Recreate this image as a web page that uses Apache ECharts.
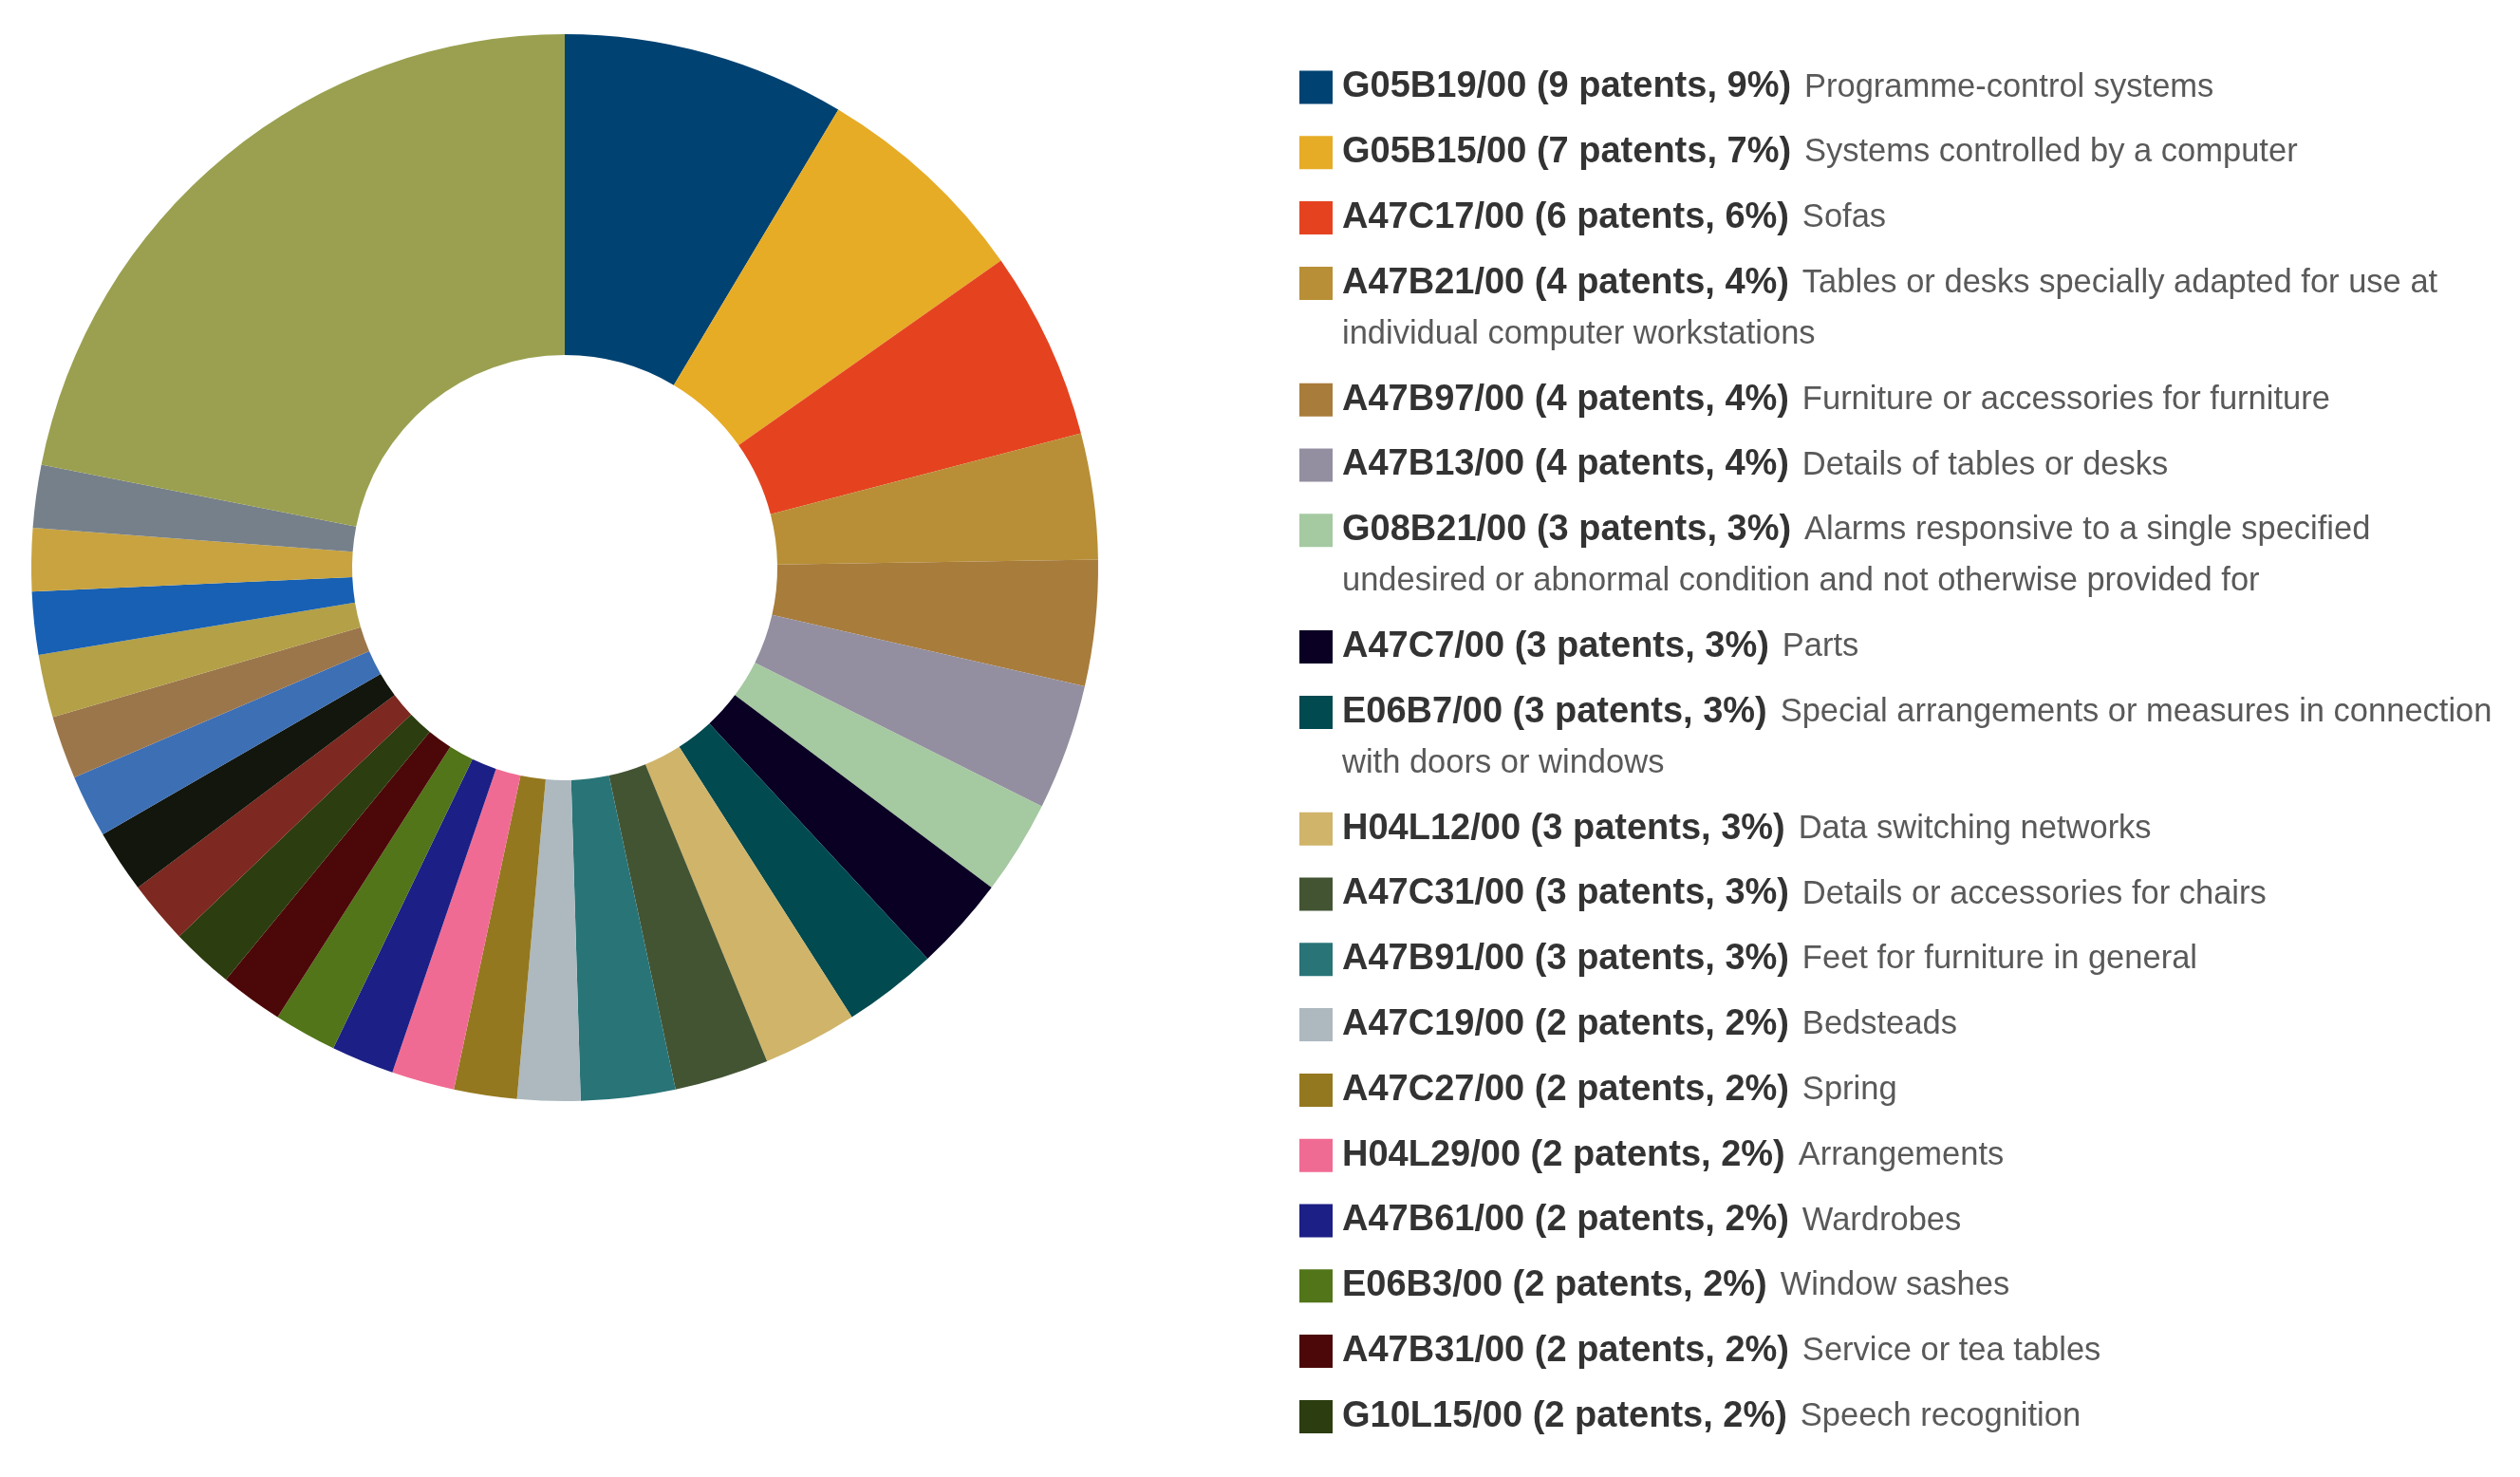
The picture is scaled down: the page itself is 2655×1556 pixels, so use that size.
<!DOCTYPE html>
<html>
<head>
<meta charset="utf-8">
<title>CPC groups</title>
<script src="https://cdn.jsdelivr.net/npm/echarts@6/dist/echarts.min.js"></script>
<style>
  html, body { margin: 0; padding: 0; background: #fff; }
  #chart { width: 2655px; height: 1556px; }
</style>
</head>
<body>
<div id="chart"></div>
<script>
// groups listed in the legend, in slice order (clockwise from 12 o'clock)
var codes = ['G05B19/00', 'G05B15/00', 'A47C17/00', 'A47B21/00', 'A47B97/00', 'A47B13/00',
  'G08B21/00', 'A47C7/00', 'E06B7/00', 'H04L12/00', 'A47C31/00', 'A47B91/00',
  'A47C19/00', 'A47C27/00', 'H04L29/00', 'A47B61/00', 'E06B3/00', 'A47B31/00', 'G10L15/00'];
var patents = [9, 7, 6, 4, 4, 4, 3, 3, 3, 3, 3, 3, 2, 2, 2, 2, 2, 2, 2];
var descriptions = [
  'Programme-control systems',
  'Systems controlled by a computer',
  'Sofas',
  'Tables or desks specially adapted for use at\nindividual computer workstations',
  'Furniture or accessories for furniture',
  'Details of tables or desks',
  'Alarms responsive to a single specified\nundesired or abnormal condition and not otherwise provided for',
  'Parts',
  'Special arrangements or measures in connection\nwith doors or windows',
  'Data switching networks',
  'Details or accessories for chairs',
  'Feet for furniture in general',
  'Bedsteads',
  'Spring',
  'Arrangements',
  'Wardrobes',
  'Window sashes',
  'Service or tea tables',
  'Speech recognition'
];
// slices that follow, not named in the legend
var restNames = ['Group 20', 'Group 21', 'Group 22', 'Group 23', 'Group 24', 'Group 25', 'Group 26', 'Group 27'];
var restPatents = [2, 2, 2, 2, 2, 2, 2, 2];
var otherName = 'Other groups';
var otherPatents = 23;

var colors = ['#004272', '#e6ac26', '#e54320', '#b88f36', '#a87c3b', '#938fa0', '#a5c9a1',
  '#0a0024', '#004a50', '#cfb46a', '#435433', '#297477', '#adb9bf', '#94781f', '#f06b93',
  '#1c1f85', '#517518', '#4c0808', '#2c3d0f',
  '#7d2820', '#12160c', '#3d6fb5', '#9c764b', '#b3a047', '#1760b4', '#c9a33f', '#76808a',
  '#9aa04f'];

var names = codes.concat(restNames, [otherName]);
var values = patents.concat(restPatents, [otherPatents]);
var total = values.reduce(function (a, b) { return a + b; }, 0);

var pieData = names.map(function (n, i) {
  return { name: n, value: values[i], itemStyle: { color: colors[i] } };
});

var LINE = 54;      // line height of legend text
var ROW = 68.8;     // distance between legend entries
var FIRST = 92;     // centre of the first legend row

function legendLabel(name) {
  var i = codes.indexOf(name);
  var pct = Math.round(patents[i] / total * 100);
  return '{b|' + name + ' (' + patents[i] + ' patents, ' + pct + '%)}{s| }{n|' + descriptions[i] + '}';
}

var tokenBase = { lineHeight: LINE, height: LINE, backgroundColor: 'transparent' };
var rich = {
  b: Object.assign({ fontFamily: 'Liberation Sans', fontWeight: 'bold', fontSize: 38, color: '#333' }, tokenBase),
  s: Object.assign({ fontFamily: 'Liberation Sans', fontSize: 50 }, tokenBase),
  n: Object.assign({ fontFamily: 'Liberation Sans', fontSize: 34.5, color: '#595959' }, tokenBase)
};

// one legend per entry so two-line entries keep the swatch on their first line
var legends = [];
var y = FIRST;
codes.forEach(function (c, i) {
  var wrapped = descriptions[i].indexOf('\n') >= 0;
  legends.push({
    orient: 'vertical',
    left: 1369,
    top: y - LINE / 2 - (wrapped ? LINE : 0),
    padding: 0,
    itemWidth: 35,
    itemHeight: 35,
    icon: 'rect',
    selectedMode: false,
    data: [c],
    formatter: legendLabel,
    textStyle: {
      lineHeight: LINE,
      padding: [wrapped ? LINE : 0, 0, 0, 5],
      rich: rich
    }
  });
  y += ROW + (wrapped ? LINE : 0);
});

var chart = echarts.init(document.getElementById('chart'));
chart.setOption({
  animation: false,
  backgroundColor: '#fff',
  legend: legends,
  series: [{
    type: 'pie',
    center: [595, 598],
    radius: [224, 562],
    startAngle: 90,
    clockwise: true,
    avoidLabelOverlap: false,
    silent: true,
    label: { show: false },
    labelLine: { show: false },
    itemStyle: { borderWidth: 0 },
    data: pieData
  }]
});
</script>
</body>
</html>
